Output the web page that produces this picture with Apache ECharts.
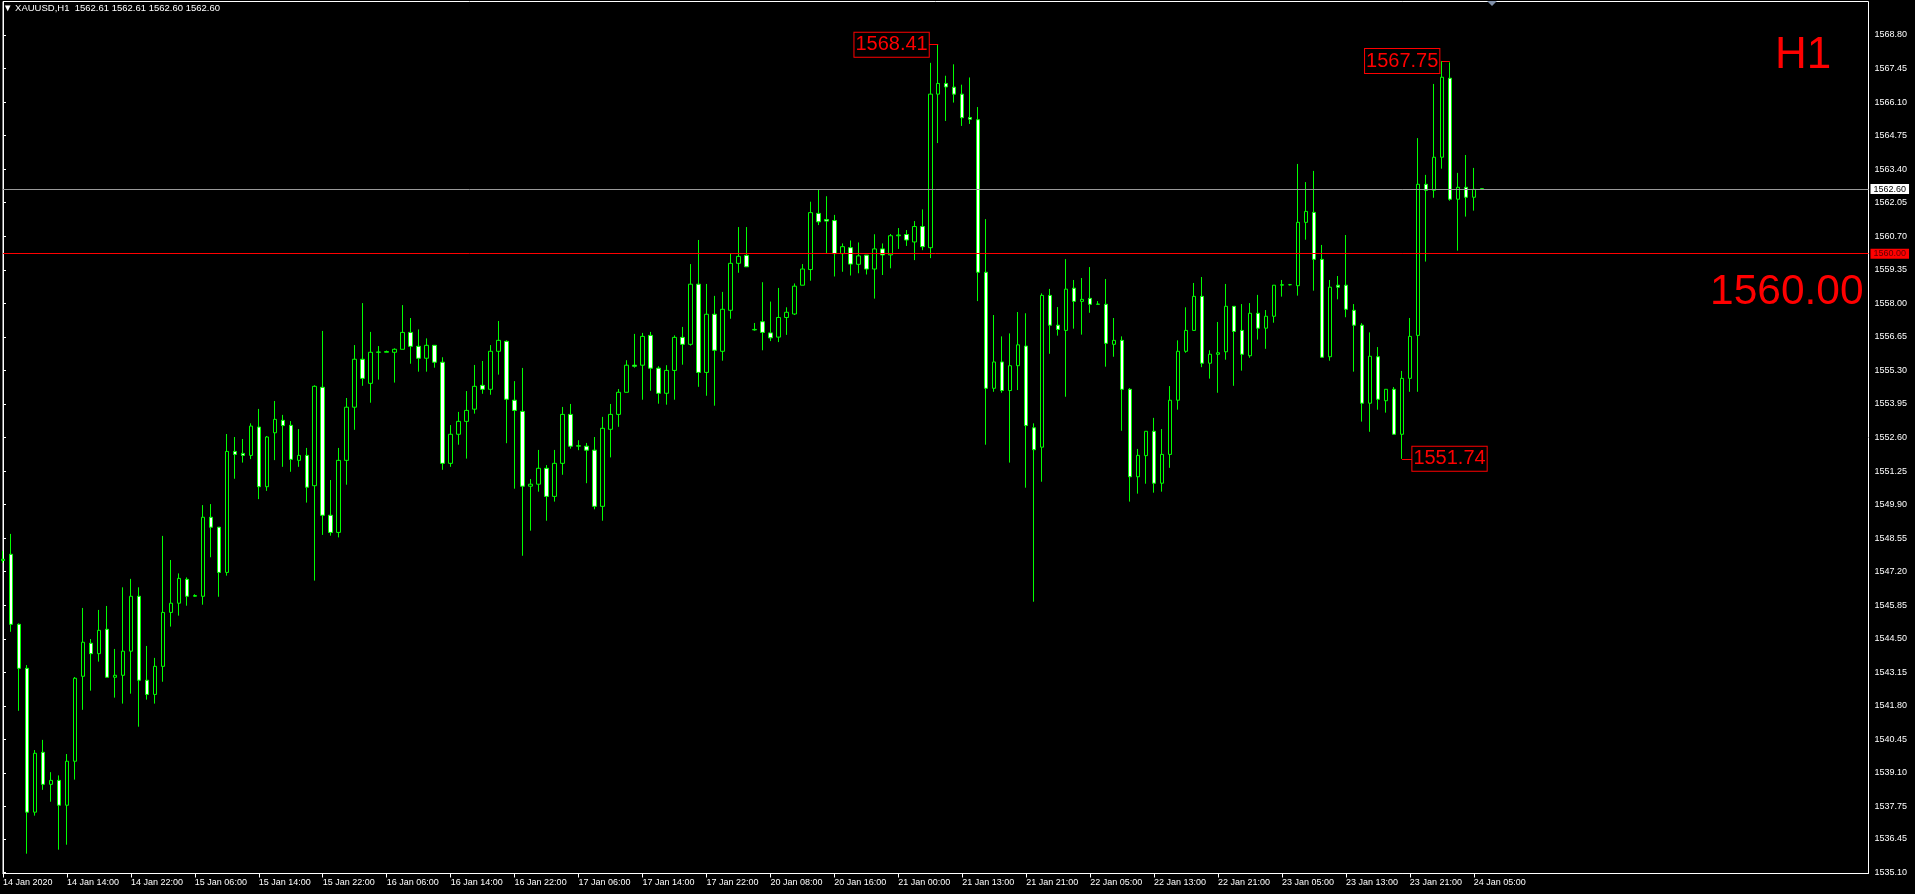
<!DOCTYPE html>
<html><head><meta charset="utf-8">
<script src="https://cdn.jsdelivr.net/npm/echarts@6/dist/echarts.min.js"></script>
<style>html,body{margin:0;padding:0;background:#000;}#c{width:1915px;height:894px;}</style>
</head><body><div id="c"></div>
<script>
const symbolName = 'XAUUSD,H1';
const headerQuote = ['1562.61', '1562.61', '1562.60', '1562.60'];
const periodText = 'H1';
const levelText = '1560.00';
const currentPrice = 1562.60;
const levelPrice = 1560.00;

const timeLabels = ['14 Jan 2020','14 Jan 14:00','14 Jan 22:00','15 Jan 06:00','15 Jan 14:00','15 Jan 22:00',
 '16 Jan 06:00','16 Jan 14:00','16 Jan 22:00','17 Jan 06:00','17 Jan 14:00','17 Jan 22:00','20 Jan 08:00',
 '20 Jan 16:00','21 Jan 00:00','21 Jan 13:00','21 Jan 21:00','22 Jan 05:00','22 Jan 13:00','22 Jan 21:00',
 '23 Jan 05:00','23 Jan 13:00','23 Jan 21:00','24 Jan 05:00'];
const barsPerLabel = 8;

const yTickValues = [1535.10,1536.45,1537.75,1539.10,1540.45,1541.80,1543.15,1544.50,1545.85,1547.20,1548.55,
 1549.90,1551.25,1552.60,1553.95,1555.30,1556.65,1558.00,1559.35,1560.70,1562.05,1563.40,1564.75,1566.10,1567.45,1568.80];

const opens = [1547.65,1547.90,1545.08,1543.31,1537.52,1539.93,1538.64,1538.80,1537.80,1539.57,
1542.99,1544.32,1543.90,1544.88,1542.95,1543.03,1544.00,1546.21,1542.83,1542.26,
1543.39,1545.56,1545.93,1546.89,1546.21,1546.21,1549.39,1548.99,1547.17,1552.04,
1551.96,1551.88,1553.02,1550.62,1552.79,1553.29,1553.09,1551.68,1551.88,1550.66,
1554.62,1549.47,1548.78,1551.68,1553.82,1555.75,1554.78,1556.03,1556.03,1556.03,
1556.15,1556.83,1556.27,1555.79,1556.31,1555.63,1551.56,1552.73,1553.25,1553.74,
1554.70,1554.54,1556.07,1556.47,1554.10,1553.65,1550.64,1550.72,1551.36,1550.23,
1551.56,1553.53,1552.25,1552.25,1552.09,1549.83,1552.93,1553.53,1554.42,1555.51,
1555.51,1556.71,1555.39,1554.38,1555.30,1556.63,1556.35,1558.77,1555.22,1557.56,
1556.07,1557.72,1559.61,1559.93,1556.93,1557.26,1556.81,1556.64,1557.43,1557.57,
1558.73,1559.36,1561.62,1561.37,1561.33,1560.00,1560.24,1559.57,1559.94,1559.38,
1560.19,1559.95,1560.72,1560.77,1560.47,1561.09,1560.24,1566.42,1566.85,1566.70,
1566.42,1565.48,1565.39,1559.25,1554.58,1555.64,1554.49,1555.49,1556.28,1552.99,
1552.21,1558.32,1557.12,1556.91,1558.61,1558.08,1558.20,1557.96,1557.96,1556.35,
1556.51,1554.54,1551.02,1551.87,1552.85,1550.76,1551.92,1554.10,1556.07,1556.91,
1558.28,1555.59,1555.95,1556.05,1557.88,1556.91,1555.89,1557.60,1557.00,1557.48,
1558.73,1558.75,1558.71,1561.26,1561.66,1559.77,1555.85,1558.73,1558.73,1557.72,
1557.12,1553.98,1555.85,1554.08,1554.54,1552.73,1554.98,1556.71,1562.79,1562.55,
1563.88,1567.06,1562.19,1562.67,1562.27,1562.61];
const highs = [1548.03,1548.72,1545.12,1543.44,1540.02,1540.43,1539.13,1539.00,1539.86,1542.96,
1545.74,1544.49,1545.66,1545.82,1544.09,1546.57,1546.91,1546.57,1544.21,1543.73,
1548.64,1547.67,1547.13,1546.97,1546.29,1549.88,1549.92,1548.99,1552.74,1552.62,
1552.54,1553.17,1553.75,1552.66,1554.07,1553.51,1553.26,1552.94,1552.18,1554.70,
1556.89,1550.89,1552.18,1554.19,1556.32,1558.01,1556.85,1556.28,1556.10,1556.19,
1557.93,1557.41,1556.95,1556.59,1556.31,1555.83,1553.10,1553.63,1554.47,1555.52,
1555.68,1556.32,1557.29,1556.51,1554.87,1555.40,1550.93,1552.10,1551.49,1552.10,
1553.83,1553.95,1552.49,1552.38,1552.62,1553.43,1553.95,1554.55,1555.71,1556.77,
1556.81,1556.85,1555.47,1555.51,1556.71,1557.05,1559.58,1560.55,1558.78,1558.30,
1558.46,1559.99,1561.07,1561.07,1557.21,1558.85,1558.07,1558.62,1557.84,1558.80,
1559.58,1562.09,1562.57,1562.31,1561.56,1560.41,1560.53,1560.45,1559.94,1560.78,
1560.41,1560.79,1561.03,1560.95,1561.31,1561.78,1567.68,1568.41,1567.16,1567.62,
1566.80,1567.09,1565.90,1561.39,1557.53,1556.67,1556.79,1557.65,1557.60,1553.17,
1558.40,1558.58,1557.85,1559.78,1558.94,1559.02,1559.46,1558.09,1558.98,1557.41,
1556.67,1554.59,1552.14,1552.85,1553.39,1552.94,1554.67,1556.51,1557.84,1558.82,
1559.06,1556.11,1557.25,1558.78,1557.88,1557.97,1558.01,1558.34,1557.73,1558.73,
1558.94,1558.78,1563.61,1562.88,1563.33,1560.35,1558.94,1559.10,1560.75,1557.97,
1557.20,1556.83,1556.24,1554.54,1554.63,1555.28,1557.41,1564.65,1563.17,1566.83,
1567.75,1567.70,1563.25,1563.97,1563.45,1562.61];
const lows = [1547.55,1544.78,1541.60,1535.85,1537.38,1538.42,1537.94,1536.01,1536.21,1538.83,
1541.64,1542.41,1543.58,1542.95,1542.13,1541.89,1542.29,1540.96,1542.05,1541.89,
1542.77,1544.99,1545.43,1545.83,1546.19,1545.87,1547.78,1546.19,1547.04,1550.94,
1551.59,1551.73,1550.12,1550.45,1551.69,1551.42,1551.22,1551.42,1549.98,1546.84,
1548.68,1548.65,1548.58,1550.70,1552.91,1554.68,1554.00,1554.93,1556.03,1554.81,
1556.15,1555.57,1555.25,1555.25,1555.41,1551.30,1551.42,1552.31,1551.75,1553.56,
1554.36,1554.32,1555.13,1552.37,1550.54,1547.84,1548.85,1550.42,1549.25,1550.02,
1551.10,1552.15,1552.09,1550.76,1549.71,1549.25,1551.80,1553.03,1554.42,1555.41,
1554.12,1554.48,1553.96,1553.92,1554.12,1555.53,1556.30,1554.64,1554.28,1553.88,
1555.69,1557.38,1559.23,1559.47,1556.90,1556.11,1556.48,1556.44,1556.73,1557.53,
1558.73,1558.91,1561.15,1560.00,1559.08,1559.27,1559.12,1559.21,1559.16,1558.19,
1559.14,1559.41,1560.19,1560.31,1559.74,1560.14,1559.82,1564.45,1565.34,1566.08,
1565.14,1565.22,1558.09,1552.31,1554.44,1554.40,1551.59,1554.51,1550.58,1545.99,
1550.82,1555.97,1556.70,1554.24,1556.98,1556.74,1557.62,1557.96,1555.45,1555.85,
1552.87,1550.02,1550.34,1550.74,1550.38,1550.42,1551.38,1553.72,1556.01,1556.91,
1555.43,1554.97,1554.40,1555.73,1554.68,1555.29,1555.81,1556.54,1556.17,1557.22,
1558.27,1558.72,1558.31,1560.56,1558.51,1555.83,1555.69,1558.16,1557.44,1555.25,
1553.24,1552.83,1553.72,1553.60,1552.73,1551.74,1554.44,1554.44,1559.68,1562.25,
1563.42,1562.13,1560.12,1561.49,1561.73,1562.60];
const closes = [1547.70,1545.08,1543.31,1537.52,1539.89,1538.64,1538.80,1537.80,1539.57,1542.91,
1544.36,1543.90,1544.84,1542.95,1543.03,1544.00,1546.21,1542.83,1542.26,1543.39,
1545.56,1545.93,1546.93,1546.21,1546.24,1549.39,1548.99,1547.17,1552.04,1551.92,
1551.88,1553.06,1550.62,1552.62,1553.33,1553.08,1551.72,1551.88,1550.60,1554.66,
1549.47,1548.78,1551.68,1553.82,1555.75,1554.98,1556.03,1556.04,1556.06,1556.15,
1556.83,1556.27,1555.79,1556.31,1555.63,1551.56,1552.73,1553.25,1553.69,1554.66,
1554.54,1556.07,1556.51,1554.14,1553.69,1550.64,1550.72,1551.36,1550.23,1551.56,
1553.53,1552.25,1552.27,1552.09,1549.83,1552.97,1553.53,1554.42,1555.51,1555.47,
1556.67,1555.39,1554.38,1555.30,1556.63,1556.35,1558.77,1555.22,1557.56,1556.11,
1557.76,1559.61,1559.89,1559.47,1556.95,1556.83,1556.61,1557.43,1557.64,1558.69,
1559.38,1561.65,1561.28,1561.31,1560.00,1560.28,1559.58,1559.91,1559.38,1560.19,
1559.95,1560.72,1560.75,1560.55,1561.09,1560.28,1566.42,1566.85,1566.71,1566.42,
1565.47,1565.41,1559.25,1554.58,1555.64,1554.49,1555.49,1556.33,1553.08,1552.11,
1558.32,1557.12,1556.95,1558.57,1558.08,1558.16,1557.96,1557.97,1556.39,1556.51,
1554.54,1551.02,1551.88,1552.85,1550.76,1551.92,1554.10,1556.07,1556.91,1558.28,
1555.59,1555.95,1556.01,1557.88,1556.87,1555.95,1557.60,1557.00,1557.48,1558.73,
1558.75,1558.75,1561.26,1561.70,1559.77,1555.83,1558.65,1558.65,1557.76,1557.12,
1553.98,1555.87,1554.14,1554.54,1552.73,1554.98,1556.67,1562.79,1562.55,1563.88,
1567.10,1562.19,1562.67,1562.27,1562.59,1562.60];

// price annotations (bar index, price, side of label)
const annIndex = [117, 180, 175];
const annPrice = [1568.41, 1567.75, 1551.74];
const annSide = ['left', 'left', 'right'];
const annConnectorEnd = [115.8, 181, 176.3];

const candleData = opens.map((o, i) => [i, o, closes[i], lows[i], highs[i]]);
const labelIdx = timeLabels.map((_, j) => j * barsPerLabel);

const chart = echarts.init(document.getElementById('c'), null, {renderer: 'canvas'});
const axisFont = 'Liberation Sans';
const gridLeft = 1.5, gridRight = 46.5;
const plotWidth = 1915 - gridLeft - gridRight;
const barPx = 8;

chart.setOption({
  backgroundColor: '#000',
  animation: false,
  title: [
    {text: '\u25BC ' + symbolName + '  ' + headerQuote.join(' '), left: 3, top: 3, padding: 0,
     textStyle: {color: '#fff', fontSize: 9.5, fontWeight: 'normal', fontFamily: axisFont}},
    {text: periodText, left: 1775, top: 34, padding: 0,
     textStyle: {color: '#ff0000', fontSize: 44, fontWeight: 'normal', fontFamily: axisFont}},
    {text: levelText, left: 1710, top: 271, padding: 0,
     textStyle: {color: '#ff0000', fontSize: 42.5, fontWeight: 'normal', fontFamily: axisFont}}
  ],
  graphic: [
    {type: 'polygon', shape: {points: [[1487, 1], [1497, 1], [1492, 6]]}, style: {fill: '#7f8fa8'}, silent: true}
  ],
  grid: {left: gridLeft, right: gridRight, top: 1.5, bottom: 20.5, show: true,
         borderColor: '#fff', borderWidth: 1, backgroundColor: '#000'},
  xAxis: {
    type: 'value', min: 0, max: plotWidth / barPx,
    splitLine: {show: false},
    axisLine: {show: true, lineStyle: {color: '#fff', width: 1}},
    axisTick: {show: true, length: 4, customValues: labelIdx, lineStyle: {color: '#fff'}},
    axisLabel: {customValues: labelIdx, formatter: v => timeLabels[Math.round(v / barsPerLabel)],
      color: '#fff', fontSize: 9, fontFamily: axisFont, align: 'left', margin: 5}
  },
  yAxis: {
    type: 'value', position: 'right', min: 1535.052, max: 1570.148, scale: true,
    splitLine: {show: false},
    axisLine: {show: true, lineStyle: {color: '#fff', width: 1}},
    axisTick: {show: true, length: 3, customValues: yTickValues, lineStyle: {color: '#fff'}},
    axisLabel: {customValues: yTickValues, formatter: v => v.toFixed(2),
      color: '#fff', fontSize: 9, fontFamily: axisFont, margin: 6}
  },
  series: [{
    type: 'candlestick',
    data: candleData,
    barWidth: 4,
    clip: true,
    itemStyle: {color: '#000', color0: '#fff', borderColor: '#00ff00', borderColor0: '#00ff00', borderWidth: 1},
    markLine: {
      silent: true, symbol: ['none', 'none'], animation: false,
      data: [
        {yAxis: currentPrice, lineStyle: {color: '#9a9a9a', width: 1, type: 'solid'},
         label: {show: true, position: 'end', distance: 2, formatter: currentPrice.toFixed(2),
           backgroundColor: '#fff', color: '#000', fontSize: 9, fontFamily: axisFont, padding: [1, 3, 0, 3]}},
        {yAxis: levelPrice, lineStyle: {color: '#ff0000', width: 1, type: 'solid'},
         label: {show: true, position: 'end', distance: 2, formatter: levelPrice.toFixed(2),
           backgroundColor: '#ff0000', color: '#600000', fontSize: 9, fontFamily: axisFont, padding: [1, 3, 0, 3]}}
      ].concat(annIndex.map((k, j) => [
        {coord: [k, annPrice[j]], lineStyle: {color: '#ff0000', width: 1, type: 'solid'}, label: {show: false}},
        {coord: [annConnectorEnd[j], annPrice[j]]}
      ]))
    },
    markPoint: {
      silent: true, animation: false,
      symbol: 'rect', symbolSize: [1, 1],
      itemStyle: {color: 'rgba(0,0,0,0)'},
      data: annIndex.map((k, j) => ({
        coord: [k, annPrice[j]], value: annPrice[j],
        label: {show: true, position: annSide[j], distance: annSide[j] === 'left' ? (j === 0 ? 9 : 2) : 10,
          formatter: annPrice[j].toFixed(2), color: '#ff0000', fontSize: 20, fontFamily: axisFont,
          borderColor: '#ff0000', borderWidth: 1, backgroundColor: '#000', padding: [1, 1, 1, 1], lineHeight: 22}
      }))
    }
  }]
});
</script></body></html>
